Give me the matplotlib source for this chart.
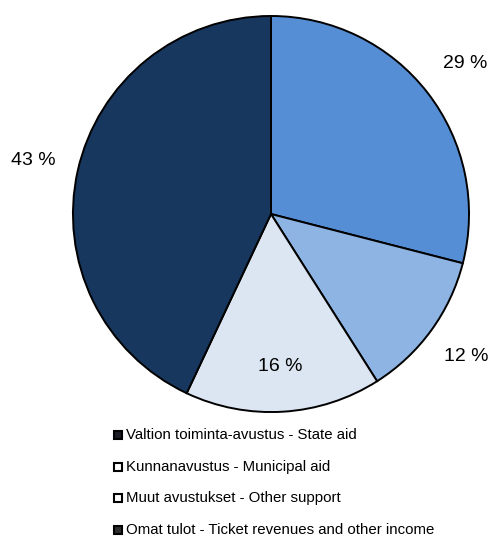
import numpy as np
import matplotlib
matplotlib.use("Agg")
import matplotlib.pyplot as plt
from matplotlib.patches import Rectangle

plt.rcParams['font.family'] = ['Liberation Sans', 'DejaVu Sans']

# shares in percent, clockwise from 12 o'clock
shares = [29, 12, 16, 43]
slice_colors = ['#558ED5', '#8EB4E3', '#DCE6F2', '#17375E']
label_dist = [1.24, 1.22, 0.77, 1.23]

legend_labels = ['Valtion toiminta-avustus - State aid',
                 'Kunnanavustus - Municipal aid',
                 'Muut avustukset - Other support',
                 'Omat tulot - Ticket revenues and other income']
legend_colors = ['#1b1b24', 'white', 'white', '#2e2e2e']

fig = plt.figure(figsize=(4.97, 5.37), dpi=100)
ax = fig.add_axes([0.1388, 0.2253, 0.8129, 0.7523])

wedges, _ = ax.pie(shares, colors=slice_colors, startangle=90, counterclock=False,
                   radius=1.0, wedgeprops=dict(edgecolor='black', linewidth=1.4))

for w, v, d in zip(wedges, shares, label_dist):
    mid = np.deg2rad((w.theta1 + w.theta2) / 2)
    ax.text(d * np.cos(mid), d * np.sin(mid), '%d %%' % v,
            ha='center', va='center', fontsize=14)

ax.set_xlim(-1.02, 1.02)
ax.set_ylim(-1.02, 1.02)
ax.set_aspect('equal')
ax.axis('off')

# legend, drawn row by row under the pie
W, H = 497.0, 537.0
for i, (lab, c) in enumerate(zip(legend_labels, legend_colors)):
    yc = 435 + i * 31.7
    fig.patches.append(Rectangle((114 / W, 1 - (yc + 4) / H), 8 / W, 8 / H,
                                 transform=fig.transFigure, facecolor=c,
                                 edgecolor='black', linewidth=1.5))
    fig.text(126 / W, 1 - yc / H, lab, ha='left', va='center', fontsize=10.8)

fig.savefig('out.png', dpi=100)
